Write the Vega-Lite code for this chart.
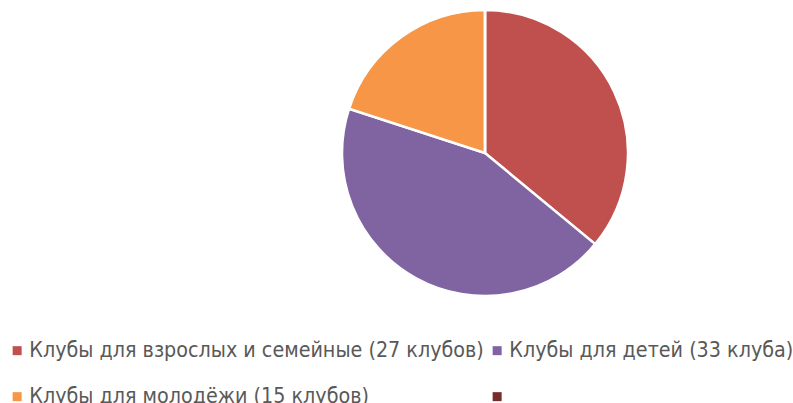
{
  "$schema": "https://vega.github.io/schema/vega-lite/v6.json",
  "width": 286,
  "height": 286,
  "autosize": {"type": "none"},
  "padding": {"left": 342, "top": 10, "right": 165, "bottom": 107},
  "background": "white",
  "config": {"view": {"stroke": null}},
  "data": {
    "values": [
      {"category": "Клубы для взрослых и семейные (27 клубов)", "value": 27, "ord": 1},
      {"category": "Клубы для детей (33 клуба)", "value": 33, "ord": 2},
      {"category": "Клубы для молодёжи (15 клубов)", "value": 15, "ord": 3},
      {"category": "_", "value": 0, "ord": 4}
    ]
  },
  "mark": {"type": "arc", "stroke": "white", "strokeWidth": 2.5},
  "encoding": {
    "theta": {"field": "value", "type": "quantitative", "stack": true},
    "order": {"field": "ord", "type": "quantitative", "sort": "ascending"},
    "color": {
      "field": "category",
      "type": "nominal",
      "scale": {
        "domain": ["Клубы для взрослых и семейные (27 клубов)", "Клубы для детей (33 клуба)", "Клубы для молодёжи (15 клубов)", "_"],
        "range": ["#C0504D", "#8064A2", "#F79646", "#772C2A"]
      },
      "legend": {
        "title": null,
        "orient": "none",
        "legendX": -335.5,
        "legendY": 330,
        "direction": "horizontal",
        "columns": 2,
        "symbolType": "square",
        "symbolSize": 81,
        "symbolStrokeWidth": 0,
        "labelFont": "DejaVu Sans Condensed, Liberation Sans Narrow, Roboto",
        "labelFontSize": 21.3,
        "labelColor": "#595959",
        "labelOffset": 1.5,
        "labelLimit": 600,
        "columnPadding": 2,
        "rowPadding": 24,
        "labelExpr": "datum.label == '_' ? '' : datum.label"
      }
    }
  }
}
